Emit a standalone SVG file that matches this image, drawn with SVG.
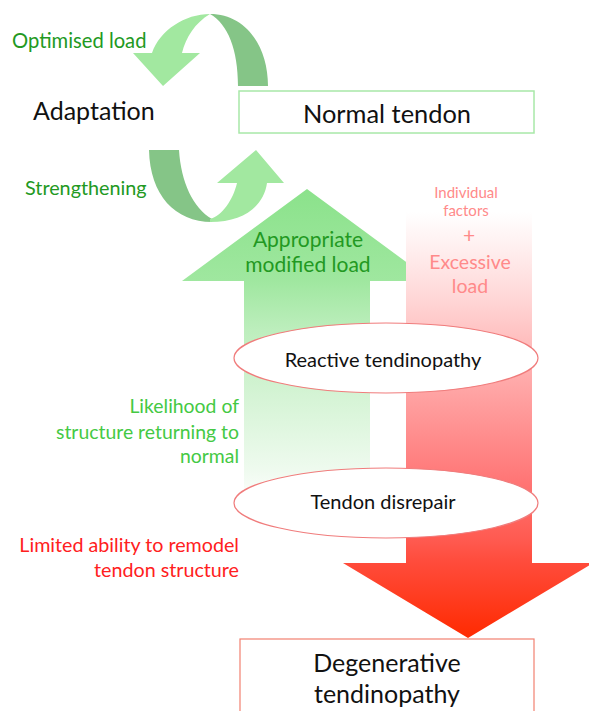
<svg xmlns="http://www.w3.org/2000/svg" width="589" height="711" viewBox="0 0 589 711">
<style>
text{font-family:Lato,"Noto Sans","Liberation Sans",sans-serif;}
.blk{fill:#111111;}
.dg{fill:#229922;}
.lg{fill:#44c944;}
.rd{fill:#ff2020;}
.pk{fill:#ff8a8a;}
.dark{fill:#85c587;}
.light{fill:#a2e8a0;}
.ell{fill:#ffffff;stroke:#f07c7c;stroke-width:1.2;}
</style>
<defs>
<linearGradient id="gUp" gradientUnits="userSpaceOnUse" x1="0" y1="189" x2="0" y2="503">
<stop offset="0" stop-color="#8be28b"/>
<stop offset="0.29" stop-color="#9fe79f"/>
<stop offset="0.45" stop-color="#bdeebd"/>
<stop offset="0.67" stop-color="#d6f4d6"/>
<stop offset="0.89" stop-color="#eefaee"/>
<stop offset="1" stop-color="#ffffff"/>
</linearGradient>
<linearGradient id="gDown" gradientUnits="userSpaceOnUse" x1="0" y1="212" x2="0" y2="638">
<stop offset="0" stop-color="#ffffff"/>
<stop offset="0.09" stop-color="#ffeeee"/>
<stop offset="0.21" stop-color="#ffd5d5"/>
<stop offset="0.35" stop-color="#ffb3b3"/>
<stop offset="0.49" stop-color="#ff9595"/>
<stop offset="0.63" stop-color="#ff7676"/>
<stop offset="0.77" stop-color="#ff5a50"/>
<stop offset="0.82" stop-color="#ff4c3c"/>
<stop offset="1" stop-color="#ff2a00"/>
</linearGradient>
</defs>

<g id="connectors">
<g id="optimised-arrow">
<path class="dark" d="M238 86 L268 86 C268 45 245 14 210 14 C228 24 238 50 238 86 Z"/>
<path class="light" d="M210 14 C185 14 160 30 152 53 L133 53 L163 86 L200 53 L182 53 C186 37 195 23 210 14 Z"/>
</g>
<g id="strengthening-arrow">
<path class="dark" d="M149 150 L179 150 C181 182 193 208 212 219 L212 222 C175 222 150 195 149 150 Z"/>
<path class="light" d="M210 219 C222 216 233 200 237 183 L217 183 L256 150 L284 183 L267 183 C264 205 245 222 210 222 Z"/>
</g>
<g id="appropriate-load-arrow">
<polygon fill="url(#gUp)" points="244,503 244,281 182,281 307,189 432,281 370,281 370,503"/>
</g>
<g id="excessive-load-arrow">
<polygon fill="url(#gDown)" points="406,212 532,212 532,563 593,563 468,638 343,563 406,563"/>
</g>
</g>

<g id="labels">
<text class="dg" x="12" y="48" font-size="20.2">Optimised load</text>
<text class="dg" x="25" y="195" font-size="19.8">Strengthening</text>
<g class="dg" font-size="21" text-anchor="middle">
<text x="308" y="247">Appropriate</text>
<text x="308" y="272">modified load</text>
</g>
<g class="pk" text-anchor="middle">
<text x="466" y="198" font-size="15">Individual</text>
<text x="466" y="216" font-size="15">factors</text>
<text x="469" y="243" font-size="21">+</text>
<text x="470" y="269" font-size="19.5">Excessive</text>
<text x="470" y="293" font-size="19.5">load</text>
</g>
<g class="lg" font-size="19.4" text-anchor="end">
<text x="239" y="413">Likelihood of</text>
<text x="239" y="439">structure returning to</text>
<text x="239" y="463">normal</text>
</g>
<g class="rd" font-size="19.7" text-anchor="end">
<text x="239" y="552">Limited ability to remodel</text>
<text x="239" y="577">tendon structure</text>
</g>
</g>

<g id="adaptation">
<text class="blk" x="33" y="120" font-size="25">Adaptation</text>
</g>

<g id="normal-tendon">
<rect x="239" y="91" width="295" height="42" fill="#ffffff" stroke="#a8e8a8" stroke-width="1.5"/>
<text class="blk" x="387" y="123" font-size="25.4" text-anchor="middle">Normal tendon</text>
</g>

<g id="reactive-tendinopathy">
<ellipse class="ell" cx="386" cy="358" rx="152" ry="35"/>
<text class="blk" x="383" y="367" font-size="20" text-anchor="middle">Reactive tendinopathy</text>
</g>

<g id="tendon-disrepair">
<ellipse class="ell" cx="386" cy="503" rx="152" ry="35"/>
<text class="blk" x="383" y="509" font-size="20" text-anchor="middle">Tendon disrepair</text>
</g>

<g id="degenerative-tendinopathy">
<rect x="240" y="639" width="294" height="80" fill="#ffffff" stroke="#f28070" stroke-width="1.2"/>
<text class="blk" x="387" y="672" font-size="25" text-anchor="middle">Degenerative</text>
<text class="blk" x="387" y="703" font-size="25" text-anchor="middle">tendinopathy</text>
</g>
</svg>
